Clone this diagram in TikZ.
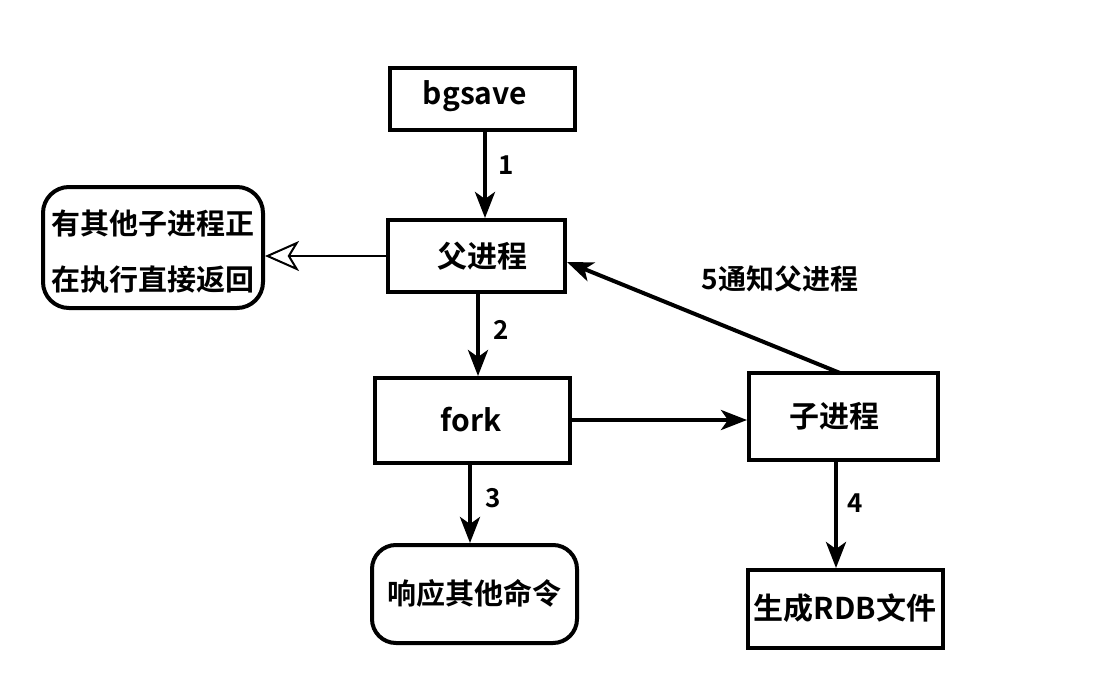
\documentclass[tikz,border=0pt]{standalone}
\usepackage{fontspec}
\setmainfont{Noto Sans CJK SC}[BoldFont={Noto Sans CJK SC Bold}]
\usetikzlibrary{arrows.meta}
\begin{document}
\begin{tikzpicture}[x=1pt,y=-1pt,
  sq/.style={draw,line width=4pt,inner sep=0pt},
  conn/.style={line width=4pt,-{Stealth[length=26pt,width=20pt,inset=7pt]}},
  lbl/.style={font=\bfseries\fontsize{26}{30}\selectfont},
  txt/.style={font=\bfseries\fontsize{30}{34}\selectfont}]
\useasboundingbox (0,0) rectangle (1100,698);
% boxes
\draw[sq] (390,68) rectangle (575,130);
\node[txt] (bgsave) at (475,96) {bgsave};
\draw[sq] (388,220) rectangle (565,292);
\node[txt] (fu) at (482,256) {父进程};
\draw[sq] (375,378) rectangle (570,463);
\node[txt] (fork) at (471,420) {fork};
\draw[sq] (749,373) rectangle (938,460);
\node[txt] (zi) at (834,416) {子进程};
\draw[sq] (748,570) rectangle (943,648);
\node[txt] (rdb) at (845,608) {生成RDB文件};
\draw[sq,rounded corners=24pt] (372,545) rectangle (577,643);
\node[txt,font=\bfseries\fontsize{29}{33}\selectfont] (resp) at (474,593) {响应其他命令};
\draw[sq,rounded corners=26pt] (43,187) rectangle (263,308);
\node[align=left,font=\bfseries\fontsize{29}{56}\selectfont] (other) at (153,252) {有其他子进程正\\在执行直接返回};
% connectors
\coordinate (a1s) at (485,132); \coordinate (a1e) at (485,218);
\draw[conn] (a1s) -- (a1e);
\node[lbl] (l1) at (506,165) {1};
\coordinate (aos) at (386,256); \coordinate (aoe) at (265,256);
\draw[line width=2.6pt,-{Stealth[open,length=34pt,width=30pt,inset=9pt,line width=2pt]}] (aos) -- (aoe);
\coordinate (a2s) at (478,294); \coordinate (a2e) at (478,376);
\draw[conn] (a2s) -- (a2e);
\node[lbl] (l2) at (501,330) {2};
\coordinate (a3s) at (470,465); \coordinate (a3e) at (470,543);
\draw[conn] (a3s) -- (a3e);
\node[lbl] (l3) at (493,498) {3};
\coordinate (a4s) at (572,420); \coordinate (a4e) at (747,420);
\draw[conn] (a4s) -- (a4e);
\coordinate (a5s) at (836,462); \coordinate (a5e) at (836,568);
\draw[conn] (a5s) -- (a5e);
\node[lbl] (l4) at (855,503) {4};
\coordinate (a6s) at (840,373); \coordinate (a6e) at (567,262);
\draw[conn] (a6s) -- (a6e);
\node[txt,font=\bfseries\fontsize{28}{32}\selectfont] (l5) at (780,279) {5通知父进程};
\end{tikzpicture}
\end{document}
